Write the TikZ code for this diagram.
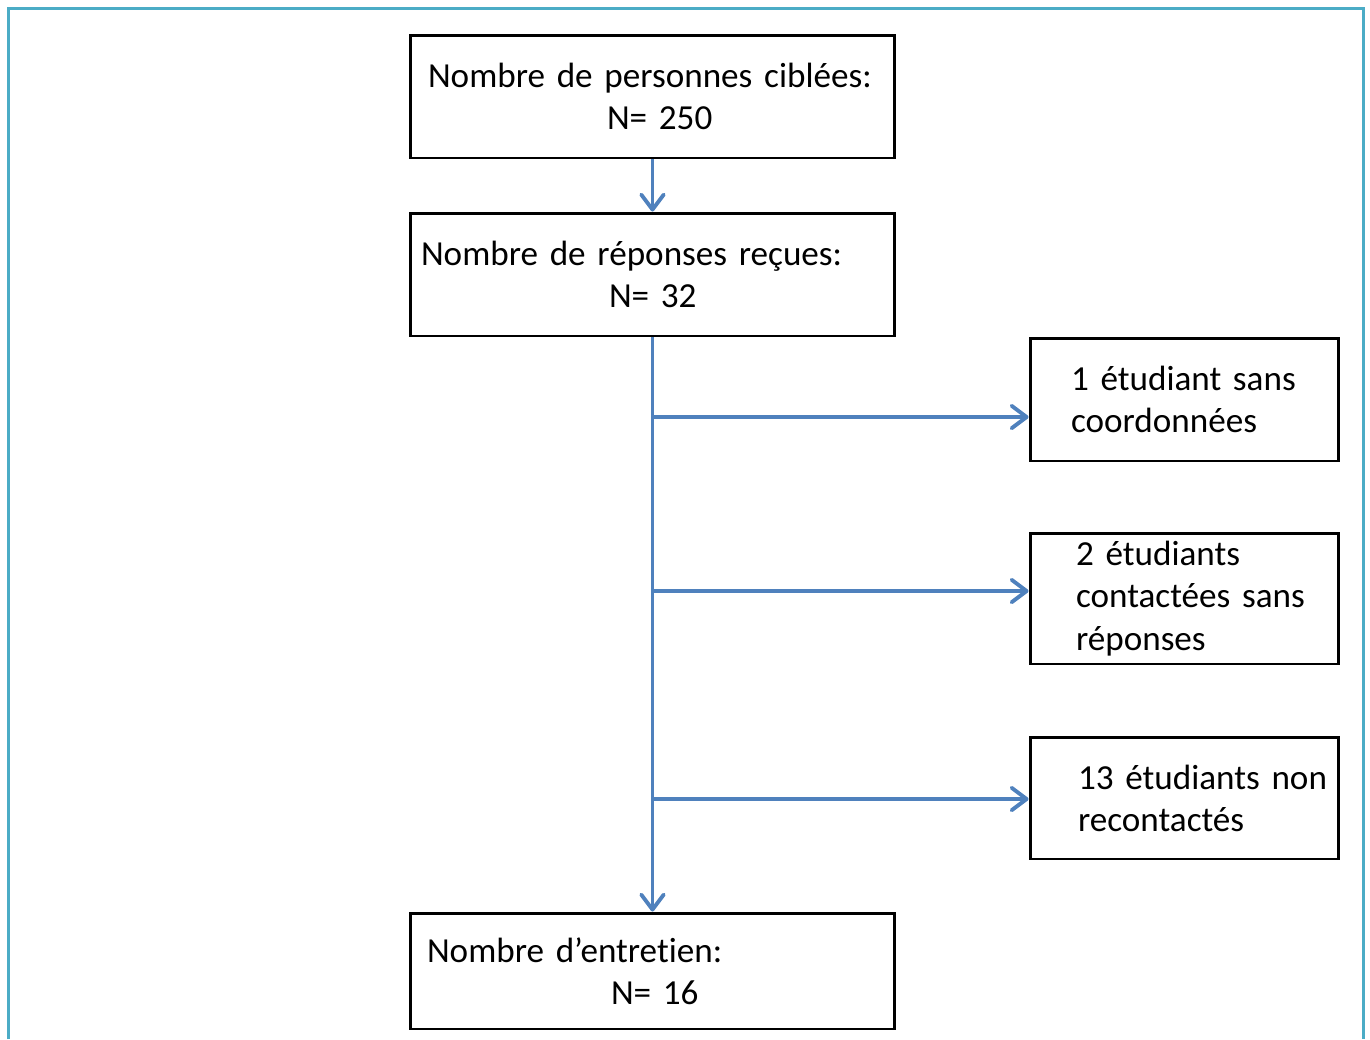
\documentclass[tikz,border=0pt]{standalone}
\usepackage{fontspec}
\setmainfont{Carlito}[Ligatures=NoCommon]
\usetikzlibrary{arrows.meta}
\definecolor{flowblue}{HTML}{4F81BD}
\definecolor{frameteal}{HTML}{4BACC6}
\newcommand\boxfont{\fontsize{20}{24}\selectfont\fontdimen2\font=3.2pt\relax}
\begin{document}
\begin{tikzpicture}[x=0.02cm,y=-0.02cm,
  box/.style={draw,line width=1.7pt,align=left,inner xsep=0.1cm,inner ysep=0pt,
    font=\boxfont},
  bigbox/.style={box,text width=9.5cm,minimum width=9.7cm},
  sidebox/.style={box,text width=5.98cm,minimum width=6.18cm},
  arr/.style={draw=flowblue,line width=2.2pt,-{Straight Barb[length=0.3cm,width=0.45cm,round]}}]
\useasboundingbox (0,0) rectangle (1370,1039);
\draw[frameteal,line width=1.7pt] (8.5,1039) -- (8.5,8.5) -- (1363,8.5) -- (1363,1039);

\node[bigbox,minimum height=2.46cm] (ciblees) at (652.5,96.5)
  {\hspace*{0.26cm}Nombre de personnes ciblées:\\\hspace*{3.84cm}N= 250};
\node[bigbox,minimum height=2.46cm] (recues) at (652.5,274.5)
  {\hspace*{0.12cm}Nombre de réponses reçues:\\\hspace*{3.88cm}N= 32};
\node[bigbox,minimum height=2.32cm] (entretien) at (652.5,971)
  {\hspace*{0.24cm}Nombre d’entretien:\\\hspace*{3.92cm}N= 16};

\node[sidebox,minimum height=2.46cm] (coord) at (1184.5,399.5)
  {\hspace*{0.72cm}1 étudiant sans\\\hspace*{0.72cm}coordonnées};
\node[sidebox,minimum height=2.62cm] (sansrep) at (1184.5,598.5)
  {\hspace*{0.82cm}2 étudiants\\\hspace*{0.82cm}contactées sans\\\hspace*{0.82cm}réponses};
\node[sidebox,minimum height=2.44cm] (nonrec) at (1184.5,798)
  {\hspace*{0.86cm}13 étudiants non\\\hspace*{0.86cm}recontactés};

\coordinate (b1) at (652.5,417);
\coordinate (b2) at (652.5,591);
\coordinate (b3) at (652.5,799);

\draw[arr] (ciblees) -- (recues);
\draw[arr] (recues) -- (entretien);
\draw[arr] (b1) -- (b1 -| coord.west);
\draw[arr] (b2) -- (b2 -| sansrep.west);
\draw[arr] (b3) -- (b3 -| nonrec.west);
\end{tikzpicture}
\end{document}
